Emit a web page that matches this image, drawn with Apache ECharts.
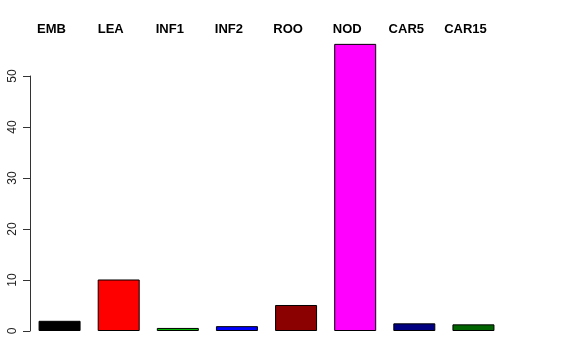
<!DOCTYPE html>
<html>
<head>
<meta charset="utf-8">
<script src="https://cdn.jsdelivr.net/npm/echarts@6/dist/echarts.min.js"></script>
<style>html,body{margin:0;padding:0;background:#fff;}#c{width:576px;height:360px;}</style>
</head>
<body>
<div id="c"></div>
<script>
var categories = ['EMB', 'LEA', 'INF1', 'INF2', 'ROO', 'NOD', 'CAR5', 'CAR15'];
var values = [2.0, 10.1, 0.6, 0.95, 5.1, 56.3, 1.5, 1.3];
var barColors = ['#000000', '#FF0000', '#00B400', '#0000FF', '#8B0000', '#FF00FF', '#000080', '#006400'];
var yTicks = [0, 10, 20, 30, 40, 50];

var chart = echarts.init(document.getElementById('c'), null, {renderer: 'canvas'});
chart.setOption({
  animation: false,
  backgroundColor: '#ffffff',
  grid: {left: 30, right: 73, top: 76, bottom: 29, containLabel: false},
  xAxis: {
    type: 'category',
    position: 'top',
    data: categories,
    axisLine: {show: false},
    axisTick: {show: false},
    splitLine: {show: false},
    axisLabel: {
      margin: 40,
      fontFamily: 'Liberation Sans, Arial, sans-serif',
      fontWeight: 'bold',
      fontSize: 13,
      color: '#000',
      padding: [0, 16, 0, 0],
      interval: 0
    }
  },
  yAxis: {
    type: 'value',
    min: yTicks[0],
    max: yTicks[yTicks.length - 1],
    interval: 10,
    axisLine: {show: true, lineStyle: {color: '#333', width: 1}},
    axisTick: {show: true, length: 7, lineStyle: {color: '#333'}},
    splitLine: {show: false},
    axisLabel: {
      rotate: 90,
      margin: 11,
      fontFamily: 'Liberation Sans, Arial, sans-serif',
      fontSize: 12,
      color: '#222'
    }
  },
  series: [{
    type: 'bar',
    clip: false,
    barWidth: 42,
    data: values.map(function (v, i) {
      return {value: v, itemStyle: {color: barColors[i]}};
    }),
    itemStyle: {borderColor: '#000', borderWidth: 1}
  }]
});
</script>
</body>
</html>
